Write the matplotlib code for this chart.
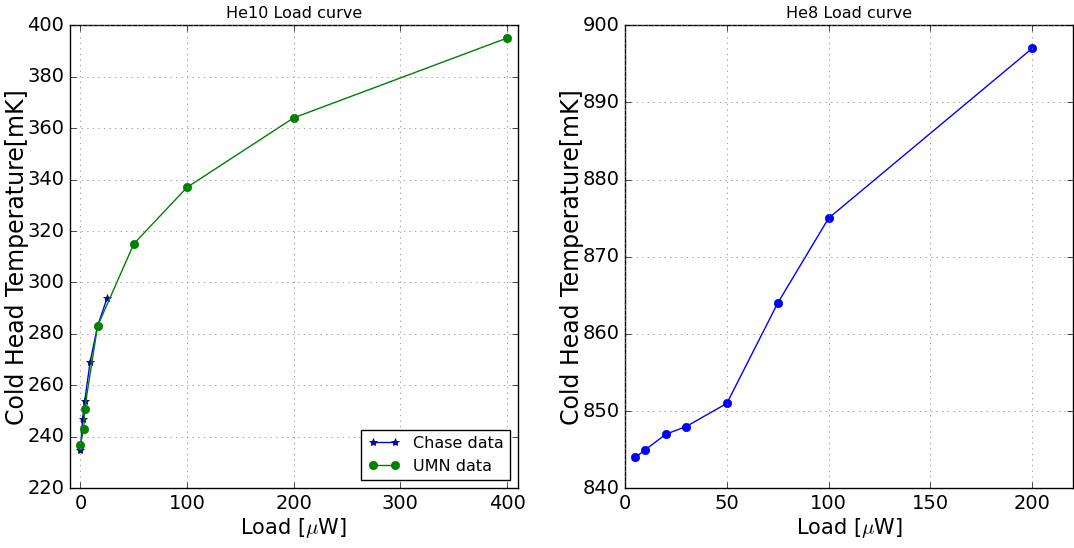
import matplotlib
matplotlib.use('Agg')
import matplotlib.pyplot as plt

plt.style.use('classic')
plt.rcParams['font.family'] = ['DejaVu Sans']

# He10 load curve: Chase data vs UMN data
chase_load = [0, 2, 4, 9, 16, 25]
chase_temp = [235, 247, 254, 269, 283, 294]
umn_load = [0, 3, 4, 16, 50, 100, 200, 400]
umn_temp = [237, 243, 251, 283, 315, 337, 364, 395]

# He8 load curve
he8_load = [5, 10, 20, 30, 50, 75, 100, 200]
he8_temp = [844, 845, 847, 848, 851, 864, 875, 897]

fig = plt.figure(figsize=(10.74, 5.48), dpi=100, facecolor='white')
ax1 = fig.add_axes([0.065, 0.109, 0.417, 0.845])
ax2 = fig.add_axes([0.582, 0.109, 0.417, 0.845])

ax1.plot(chase_load, chase_temp, 'b*-', markersize=6, label='Chase data')
ax1.plot(umn_load, umn_temp, 'go-', markersize=6, markeredgecolor='g', label='UMN data')
ax1.set_xlim(-10, 410)
ax1.set_ylim(220, 400)
ax1.set_title('He10 Load curve', fontsize=11.5)
ax1.legend(loc='lower right', fontsize=11.5)

ax2.plot(he8_load, he8_temp, 'bo-', markersize=6, markeredgecolor='b')
ax2.set_xlim(0, 220)
ax2.set_ylim(840, 900)
ax2.set_title('He8 Load curve', fontsize=11.5)

for ax in (ax1, ax2):
    ax.set_xlabel(r'Load [$\mu$W]', fontsize=15, labelpad=2)
    ax.set_ylabel('Cold Head Temperature[mK]', fontsize=17, labelpad=-1)
    ax.grid(True, color='gray', linestyle=':')
    ax.tick_params(labelsize=14)

fig.savefig('out.png', dpi=100, facecolor='white')
